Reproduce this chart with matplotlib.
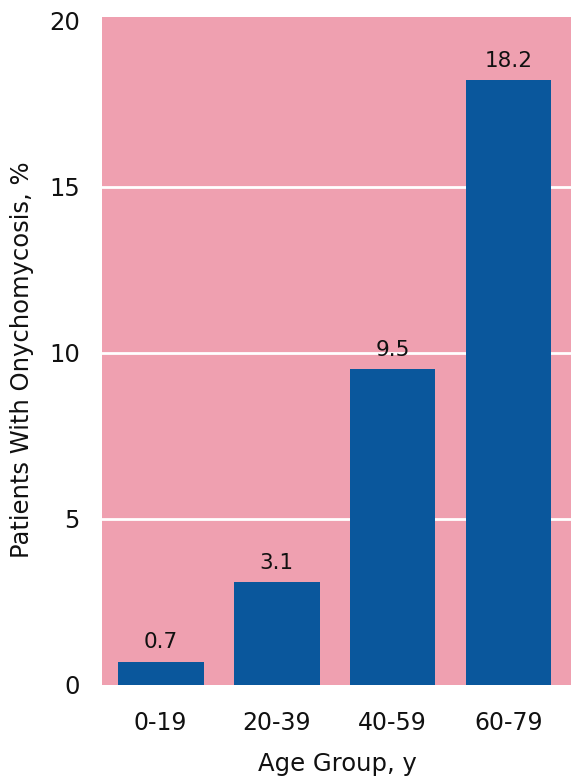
import matplotlib.pyplot as plt
import numpy as np

plt.rcParams['font.family'] = ['DejaVu Sans']

age_groups = ['0-19', '20-39', '40-59', '60-79']
prevalence = [0.7, 3.1, 9.5, 18.2]
y_ticks = [0, 5, 10, 15, 20]

pink = '#efa0b0'
blue = '#0a579c'

fig = plt.figure(figsize=(5.71, 7.81), dpi=100)
ax = fig.add_axes([0.179, 0.123, 0.821, 0.855])
ax.set_facecolor(pink)

x = np.arange(len(age_groups))
for yv in y_ticks[1:-1]:
    ax.axhline(yv, color='white', linewidth=2, zorder=1)
ax.bar(x, prevalence, width=0.74, color=blue, zorder=2)

# value labels above bars
for xi, v in zip(x, prevalence):
    ax.text(xi, v + 0.4, f'{v}', ha='center', va='baseline', fontsize=15.5, color='#111111')

ax.set_xlim(-0.504, 3.539)
ax.set_ylim(0, 20.1)
ax.set_xticks(x)
ax.set_xticklabels(age_groups, fontsize=17)
ax.set_yticks(y_ticks)
ax.set_yticklabels([str(t) for t in y_ticks], fontsize=17.5)
ax.tick_params(length=0, labelcolor='#111111')
ax.tick_params(axis='y', pad=16)
ax.tick_params(axis='x', pad=19)
for s in ax.spines.values():
    s.set_visible(False)

fig.text(337 / 571, 1 - 764 / 781, 'Age Group, y', fontsize=17.5,
         ha='center', va='center', color='#111111')
fig.text(22 / 571, 1 - 360 / 781, 'Patients With Onychomycosis, %', fontsize=17.5,
         ha='center', va='center', rotation=90, color='#111111')

fig.savefig('out.png', dpi=100)
